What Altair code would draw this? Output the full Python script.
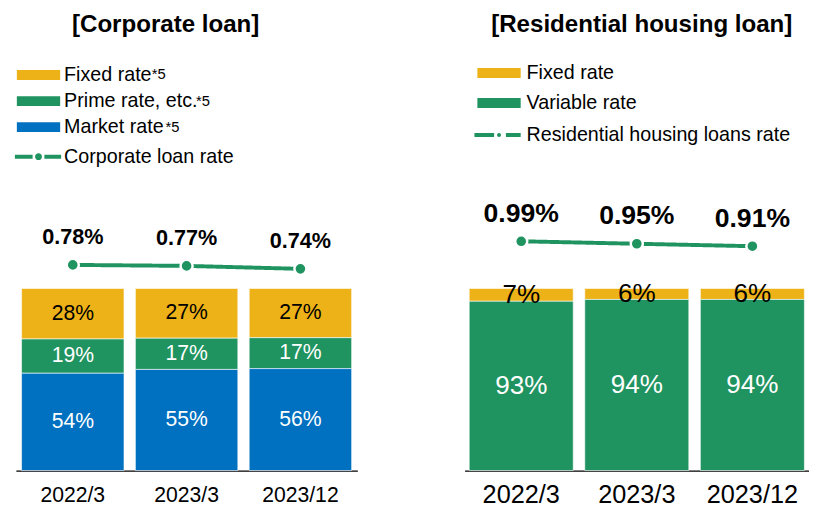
import altair as alt
import pandas as pd

# ---------------- data ----------------
periods = ["2022/3", "2023/3", "2023/12"]

corp_series = ["Fixed rate", "Prime rate, etc.", "Market rate"]
corp_fixed = [28, 27, 27]
corp_prime = [19, 17, 17]
corp_market = [54, 55, 56]
corp_rate = [0.78, 0.77, 0.74]
corp_rate_name = "Corporate loan rate"

res_series = ["Fixed rate", "Variable rate"]
res_fixed = [7, 6, 6]
res_variable = [93, 94, 94]
res_rate = [0.99, 0.95, 0.91]
res_rate_name = "Residential housing loans rate"

footnote = "*5"

# ---------------- styling ----------------
YELLOW = "#EDB217"
GREEN = "#1F9360"
BLUE = "#0070C0"
FONT = "Liberation Sans"

H = 427          # plot height (both panels)
W_LEFT = 347
W_RIGHT = 350
BAR_DOMAIN = [0, 2.308]
CORP_RATE_DOMAIN = [-1.31, 2.96]
RES_RATE_DOMAIN = [-2.738, 4.094]

RECT_SYMBOL = "M-4.4,-1H4.4V1H-4.4Z"
CORP_LINE_SYMBOL = ("M-4.8,-0.4H-1.2V0.4H-4.8Z M1.2,-0.4H4.6V0.4H1.2Z "
                    "M-0.7,0A0.7,0.7 0 1,0 0.7,0A0.7,0.7 0 1,0 -0.7,0Z")
RES_LINE_SYMBOL = ("M-5,-0.4H-1V0.4H-5Z M1.4,-0.4H4.4V0.4H1.4Z "
                   "M-0.4,0A0.4,0.4 0 1,0 0.4,0A0.4,0.4 0 1,0 -0.4,0Z")


def bar_frame(series, columns, text_colors):
    rows = []
    n = len(series)
    for si, (name, vals, tc) in enumerate(zip(series, columns, text_colors)):
        for p, v in zip(periods, vals):
            rows.append({"period": p, "series": name, "value": v,
                         "order": n - 1 - si, "label": f"{v}%", "tcolor": tc})
    return pd.DataFrame(rows)


def rate_frame(rates, name):
    return pd.DataFrame({"period": periods, "rate": rates,
                         "name": [name] * len(periods),
                         "label": [f"{r:.2f}%" for r in rates]})


def panel(bars_df, series, colors, rates_df, rate_name, rate_domain, width,
          title, title_dx, bar_font, axis_font, axis_pad, rate_font,
          legend_x, legend_y, legend_row_pad, line_legend_y, line_symbol,
          label_offset, legend_font, pad_inner, pad_outer, extra=None):
    xenc = alt.X("period:N", sort=periods,
                 scale=alt.Scale(paddingInner=pad_inner, paddingOuter=pad_outer),
                 axis=alt.Axis(title=None, labelAngle=0, ticks=False,
                               domainColor="black", domainWidth=1.2,
                               labelFontSize=axis_font, labelFont=FONT,
                               labelColor="black", labelPadding=axis_pad))
    bars = alt.Chart(bars_df).mark_bar(stroke="white", strokeWidth=0.6).encode(
        x=xenc,
        y=alt.Y("value:Q", stack="normalize",
                scale=alt.Scale(domain=BAR_DOMAIN), axis=None),
        color=alt.Color("series:N",
                        scale=alt.Scale(domain=series, range=colors),
                        legend=alt.Legend(orient="none", legendX=legend_x,
                                          legendY=legend_y, title=None,
                                          symbolType=RECT_SYMBOL, symbolSize=100,
                                          symbolStrokeWidth=0,
                                          labelFontSize=legend_font,
                                          labelFont=FONT, labelColor="black",
                                          labelOffset=label_offset,
                                          rowPadding=legend_row_pad, padding=0,
                                          labelLimit=0)),
        order=alt.Order("order:Q", sort="ascending"),
    )
    bar_text = alt.Chart(bars_df).transform_joinaggregate(
        total="sum(value)", groupby=["period"]
    ).transform_window(
        cum="sum(value)", groupby=["period"], sort=[alt.SortField("order")]
    ).transform_calculate(
        mid="(datum.cum - datum.value / 2) / datum.total"
    ).mark_text(font=FONT, fontSize=bar_font, baseline="middle").encode(
        x=alt.X("period:N", sort=periods),
        y=alt.Y("mid:Q", scale=alt.Scale(domain=BAR_DOMAIN), axis=None),
        text="label:N",
        color=alt.Color("tcolor:N", scale=None, legend=None),
    )
    line = alt.Chart(rates_df).mark_line(color=GREEN, strokeWidth=4).encode(
        x=alt.X("period:N", sort=periods),
        y=alt.Y("rate:Q", scale=alt.Scale(domain=rate_domain), axis=None),
        strokeDash=alt.StrokeDash(
            "name:N", scale=alt.Scale(domain=[rate_name], range=[[1, 0]]),
            legend=alt.Legend(orient="none", legendX=legend_x,
                              legendY=line_legend_y, title=None,
                              symbolType=line_symbol, symbolSize=100,
                              symbolFillColor=GREEN, symbolStrokeWidth=0,
                              labelFontSize=legend_font, labelFont=FONT,
                              labelColor="black", labelOffset=label_offset,
                              padding=0, labelLimit=0)),
    )
    pts = alt.Chart(rates_df).mark_point(filled=True, color=GREEN, opacity=1,
                                         size=150, stroke="white",
                                         strokeWidth=2.5, shape="circle").encode(
        x=alt.X("period:N", sort=periods),
        y=alt.Y("rate:Q", scale=alt.Scale(domain=rate_domain), axis=None),
    )
    rate_text = alt.Chart(rates_df).mark_text(
        font=FONT, fontSize=rate_font, fontWeight="bold", dy=-28,
        baseline="middle", color="black").encode(
        x=alt.X("period:N", sort=periods),
        y=alt.Y("rate:Q", scale=alt.Scale(domain=rate_domain), axis=None),
        text="label:N",
    )
    layers = [bars, bar_text, line, pts, rate_text]
    if extra:
        layers += extra
    return alt.layer(*layers).resolve_scale(
        y="independent", color="independent"
    ).properties(
        width=width, height=H,
        title=alt.TitleParams(text=title, anchor="start", dx=title_dx,
                              fontSize=24.5, font=FONT, fontWeight="bold",
                              color="black", offset=13, frame="group"),
    )


def sup(x, y):
    return alt.Chart(alt.Data(values=[{"t": footnote}])).mark_text(
        font=FONT, fontSize=15, align="left", baseline="alphabetic",
        color="black").encode(x=alt.value(x), y=alt.value(y), text="t:N")


corp_df = bar_frame(corp_series, [corp_fixed, corp_prime, corp_market],
                    ["black", "white", "white"])
res_df = bar_frame(res_series, [res_fixed, res_variable], ["black", "white"])

left = panel(corp_df, corp_series, [YELLOW, GREEN, BLUE],
             rate_frame(corp_rate, corp_rate_name), corp_rate_name,
             CORP_RATE_DOMAIN, W_LEFT, "[Corporate loan]", 57,
             21.5, 21.5, 14, 22, 13, 15, 6.5, 98, CORP_LINE_SYMBOL, 16, 20,
             0.1, 0.05,
             extra=[sup(138, 29), sup(183, 57), sup(152, 83)])
right = panel(res_df, res_series, [YELLOW, GREEN],
              rate_frame(res_rate, res_rate_name), res_rate_name,
              RES_RATE_DOMAIN, W_RIGHT, "[Residential housing loan]", 27,
              26.5, 25.7, 12, 27, 25, 13, 10.5, 76, RES_LINE_SYMBOL, 18, 20,
              0.1, 0.04)

chart = alt.hconcat(left, right, spacing=109).resolve_scale(
    color="independent", strokeDash="independent"
).properties(
    padding={"left": 8, "top": 0, "right": 0, "bottom": 0}
).configure(background="white").configure_view(stroke=None, strokeWidth=0)

chart.save("out.html", embed_options={"renderer": "svg", "actions": False})
